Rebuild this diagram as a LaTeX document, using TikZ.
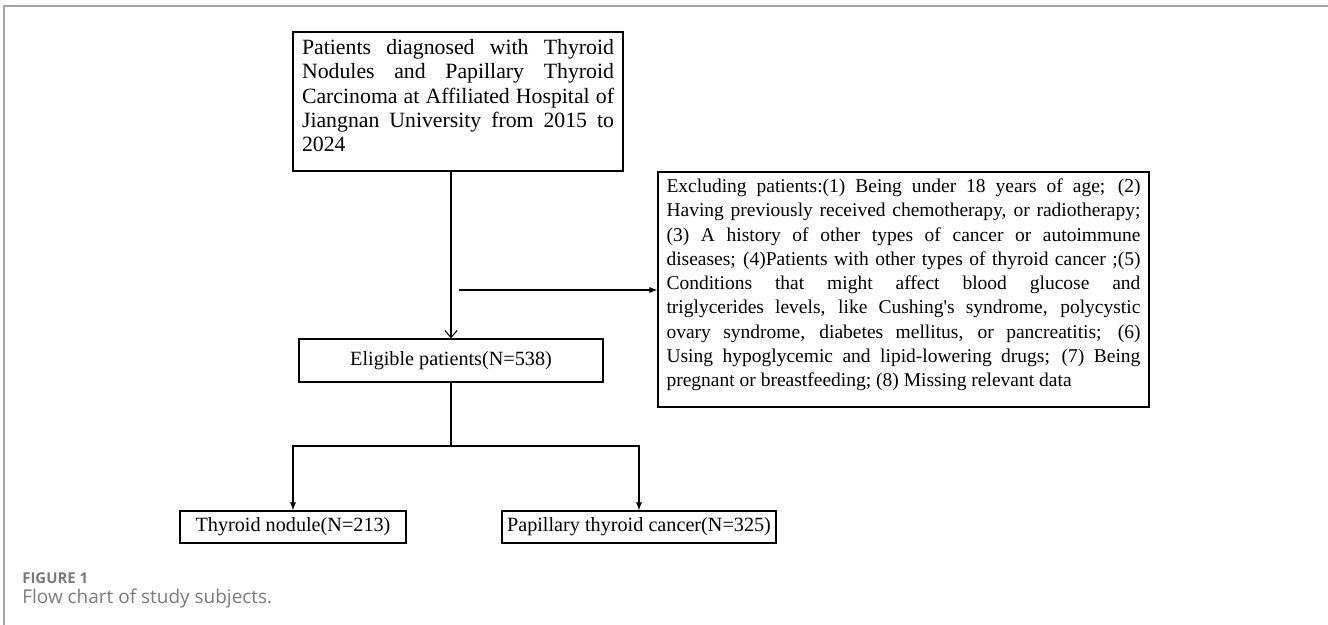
\documentclass[tikz,border=0pt]{standalone}
\usepackage{fontspec}
\setmainfont{Liberation Serif}
\newfontfamily\capfont{Open Sans}
\usetikzlibrary{arrows.meta}
\newcommand{\fillline}[1]{\makebox[\hsize][s]{\spaceskip=0pt\relax #1}\\}
\definecolor{framegray}{HTML}{A3A3AB}
\definecolor{capgray}{HTML}{7A7A7A}

\begin{document}
\begin{tikzpicture}[x=0.02cm, y=-0.02cm, >={Latex[length=4.5pt,width=3.5pt]},
    box/.style={draw, line width=0.8pt, inner sep=0pt},
    link/.style={line width=0.6pt}]
    \useasboundingbox (0,0) rectangle (1328,625);
    % frame of the figure
    \draw[framegray, line width=1.2pt] (4,625) -- (4,6) -- (1328,6);

    \node[box, minimum width=6.6cm, minimum height=2.78cm, text width=6.24cm, align=justify, font=\fontsize{12.4}{13.9}\selectfont] (source) at (458,101.5) {\fillline{Patients diagnosed with Thyroid}\fillline{Nodules and Papillary Thyroid}\fillline{Carcinoma at Affiliated Hospital of}\fillline{Jiangnan University from 2015 to}2024\rule[-6.8pt]{0pt}{6.8pt}};
    \node[box, minimum width=9.82cm, minimum height=4.7cm, text width=9.48cm, align=justify, font=\fontsize{11.1}{13.8}\selectfont] (exclude) at (903.5,289.5) {\fillline{Excluding patients:(1) Being under 18 years of age; (2)}\fillline{Having previously received chemotherapy, or radiotherapy;}\fillline{(3) A history of other types of cancer or autoimmune}\fillline{diseases; (4)Patients with other types of thyroid cancer ;(5)}\fillline{Conditions that might affect blood glucose and}\fillline{triglycerides levels, like Cushing\textquotesingle s syndrome, polycystic}\fillline{ovary syndrome, diabetes mellitus, or pancreatitis; (6)}\fillline{Using hypoglycemic and lipid-lowering drugs; (7) Being}pregnant or breastfeeding; (8) Missing relevant data\rule[-7.6pt]{0pt}{7.6pt}};
    \node[box, minimum width=6.08cm, minimum height=0.86cm, font=\fontsize{11.5}{14}\selectfont] (eligible) at (451,360.5) {Eligible patients(N=538)};
    \node[box, minimum width=4.52cm, minimum height=0.64cm, font=\fontsize{11.5}{14}\selectfont] (nodule) at (293,527) {Thyroid nodule(N=213)};
    \node[box, minimum width=5.48cm, minimum height=0.64cm, font=\fontsize{11.5}{14}\selectfont] (cancer) at (639,527) {Papillary thyroid cancer(N=325)};

    \coordinate (exstart) at (459,290);
    \coordinate (split) at (451,446);
    \draw[link, -{Straight Barb[length=4pt,width=7pt]}] (source.south -| eligible.north) -- (eligible.north);
    \draw[link, ->] (exstart) -- (exstart -| exclude.west);
    \draw[link] (eligible.south) -- (split);
    \draw[link, ->] (split) -| (nodule.north);
    \draw[link, ->] (split) -| (cancer.north);

    % caption
    \node[anchor=west, inner sep=0pt, text=capgray, font=\capfont\bfseries\fontsize{8.5}{10}\selectfont] (figlabel) at (22,578) {FIGURE 1};
    \node[anchor=west, inner sep=0pt, text=capgray, font=\capfont\fontsize{10.8}{12}\selectfont] (caption) at (22,599) {Flow chart of study subjects.};
\end{tikzpicture}
\end{document}
